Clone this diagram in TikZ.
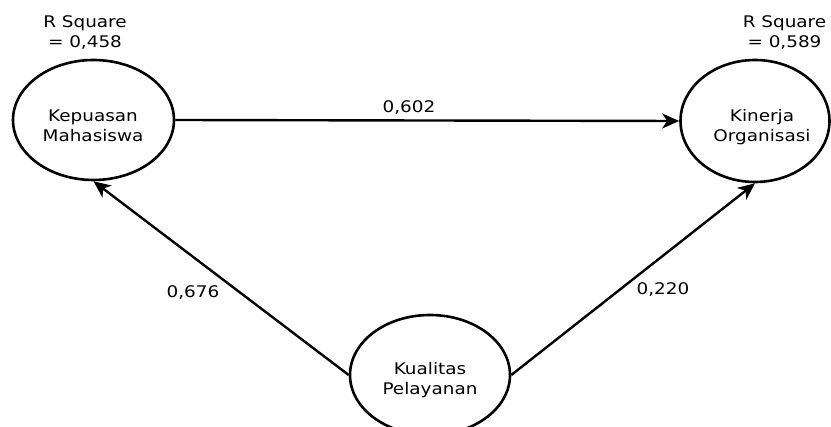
\documentclass[tikz,border=0pt]{standalone}
\usepackage{fontspec}
\setmainfont{DejaVu Sans}[FakeStretch=1.15]
\usetikzlibrary{shapes.geometric,arrows.meta}

\tikzset{
  construct/.style={ellipse, draw, line width=2.6pt, inner sep=0pt},
  caption/.style={font=\fontsize{16}{20}\selectfont, align=center, inner sep=0pt, anchor=base},
  effect/.style={line width=2.4pt, -{Stealth[length=17pt,width=15pt,inset=5pt]}},
}

\begin{document}
\begin{tikzpicture}[x=1pt,y=-1pt]
  \useasboundingbox (0,0) rectangle (831,427);

  % latent constructs
  \node[construct, minimum width=161pt, minimum height=120pt] (km) at (93.5,120) {};
  \node[construct, minimum width=149pt, minimum height=122pt] (ko) at (755,121) {};
  \node[construct, minimum width=160pt, minimum height=120pt] (kp) at (430,375) {};

  % construct names (base anchor sits on the last line)
  \node[caption] (km-name) at (93,141.7) {Kepuasan\\Mahasiswa};
  \node[caption] (ko-name) at (762,142) {Kinerja\\Organisasi};
  \node[caption] (kp-name) at (430,395) {Kualitas\\Pelayanan};

  % coefficients of determination
  \node[caption] (km-r2) at (85,48) {R Square\\= 0,458};
  \node[caption] (ko-r2) at (784.5,48) {R Square\\= 0,589};

  % structural paths
  \draw[effect] (km.east) -- (ko.west);
  \draw[effect] (kp.west) -- (km.south);
  \draw[effect] (kp.east) -- (ko.south);

  % path coefficients
  \node[caption] (c-km-ko) at (409,113) {0,602};
  \node[caption] (c-kp-km) at (193,298) {0,676};
  \node[caption] (c-kp-ko) at (663,295) {0,220};
\end{tikzpicture}
\end{document}
